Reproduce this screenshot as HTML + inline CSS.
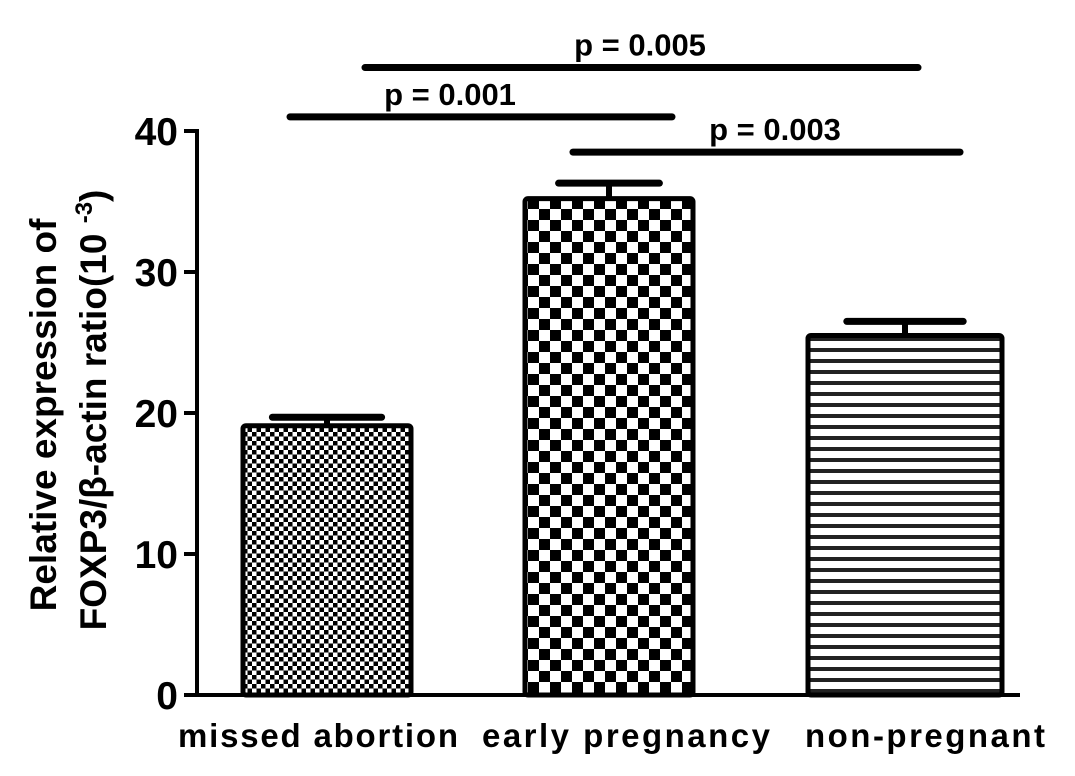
<!DOCTYPE html>
<html><head><meta charset="utf-8"><style>
body{margin:0;background:#fff}
svg text{font-family:"Liberation Sans",Arial,sans-serif;font-weight:bold;fill:#000}
</style></head><body>
<svg id="c" width="1075" height="771">
<defs>
<pattern id="fine" width="9" height="9" patternUnits="userSpaceOnUse"><rect width="9" height="9" fill="#fff"/><rect width="4.5" height="4.5" fill="#000"/><rect x="4.5" y="4.5" width="4.5" height="4.5" fill="#000"/></pattern>
<pattern id="coarse" width="22" height="22" patternUnits="userSpaceOnUse"><rect width="22" height="22" fill="#fff"/><rect width="11" height="11" fill="#000"/><rect x="11" y="11" width="11" height="11" fill="#000"/></pattern>
<pattern id="stripe" width="11" height="11" patternUnits="userSpaceOnUse"><rect width="11" height="11" fill="#fff"/><rect y="7" width="11" height="4" fill="#222"/></pattern>
</defs>
<g id="g"></g>
</svg>
<script>
const categories=["missed abortion","early pregnancy","non-pregnant"];
const values=[19.1,35.2,25.5];
const errors=[0.6,1.1,1.0];
const yTicks=[0,10,20,30,40];
const sigLabels=["p = 0.001","p = 0.005","p = 0.003"];
const sigPairs=[[0,1],[0,2],[1,2]];
const sigLevels=[41,44.5,38.5];
const fills=["url(#fine)","url(#coarse)","url(#stripe)"];
const barL=[243,525,808],barR=[411,693,1002];
const capW=[0.65,0.6,0.6];
const labL=[178,482,805],labW=[280,288,240];
const y=v=>695-v*14.1;
const g=document.getElementById('g');
const NS='http://www.w3.org/2000/svg';
function mk(t,a,p){const e=document.createElementNS(NS,t);for(const k in a)e.setAttribute(k,a[k]);(p||g).appendChild(e);return e;}
let ax=mk('line',{x1:197,y1:129,x2:197,y2:697,stroke:'#000','stroke-width':4});


let xa=mk('line',{x1:195,y1:695,x2:1020,y2:695,stroke:'#000','stroke-width':4});


yTicks.forEach(t=>{
 let l=mk('line',{x1:184,y1:y(t),x2:197,y2:y(t),stroke:'#000','stroke-width':4});
 
 
 let tx=mk('text',{x:178,y:y(t)+14,'text-anchor':'end','font-size':39});
 tx.textContent=t;
 
 
});
categories.forEach((c,i)=>{
 const x0=barL[i],x1=barR[i],cx=(x0+x1)/2,w=x1-x0;
 const top=y(values[i]+errors[i]);
 let e=mk('line',{x1:cx,y1:top,x2:cx,y2:y(values[i]),stroke:'#000','stroke-width':6});
 
 
 let cap=mk('line',{x1:cx-w*capW[i]/2,y1:top,x2:cx+w*capW[i]/2,y2:top,stroke:'#000','stroke-width':7,'stroke-linecap':'round'});
 
 
 let r=mk('rect',{x:x0,y:y(values[i]),width:w,height:695-y(values[i]),fill:fills[i],stroke:'#000','stroke-width':5,rx:3});
 
 
 let t=mk('text',{x:labL[i],y:747,'font-size':33,textLength:labW[i],lengthAdjust:'spacing'});
 t.textContent=c;
 
 
});
const sigX=[[290,672],[365,918],[573,960]];
const labX=[450,640,775];
sigPairs.forEach((p,i)=>{
 const yy=y(sigLevels[i]);
 let l=mk('line',{x1:sigX[i][0],y1:yy,x2:sigX[i][1],y2:yy,stroke:'#000','stroke-width':7,'stroke-linecap':'round'});
 
 
 let t=mk('text',{x:labX[i],y:yy-12,'text-anchor':'middle','font-size':31});
 t.textContent=sigLabels[i];
 
 
});
let yt=mk('text',{transform:'translate(56,415) rotate(-90)','text-anchor':'middle','font-size':37});
yt.textContent='Relative expression of';


let yt2=mk('text',{transform:'translate(106,410) rotate(-90)','text-anchor':'middle','font-size':37});
yt2.innerHTML='FOXP3/β-actin ratio(10 <tspan font-size="24" dy="-14">-3</tspan><tspan dy="14">)</tspan>';


</script>
</body></html>
